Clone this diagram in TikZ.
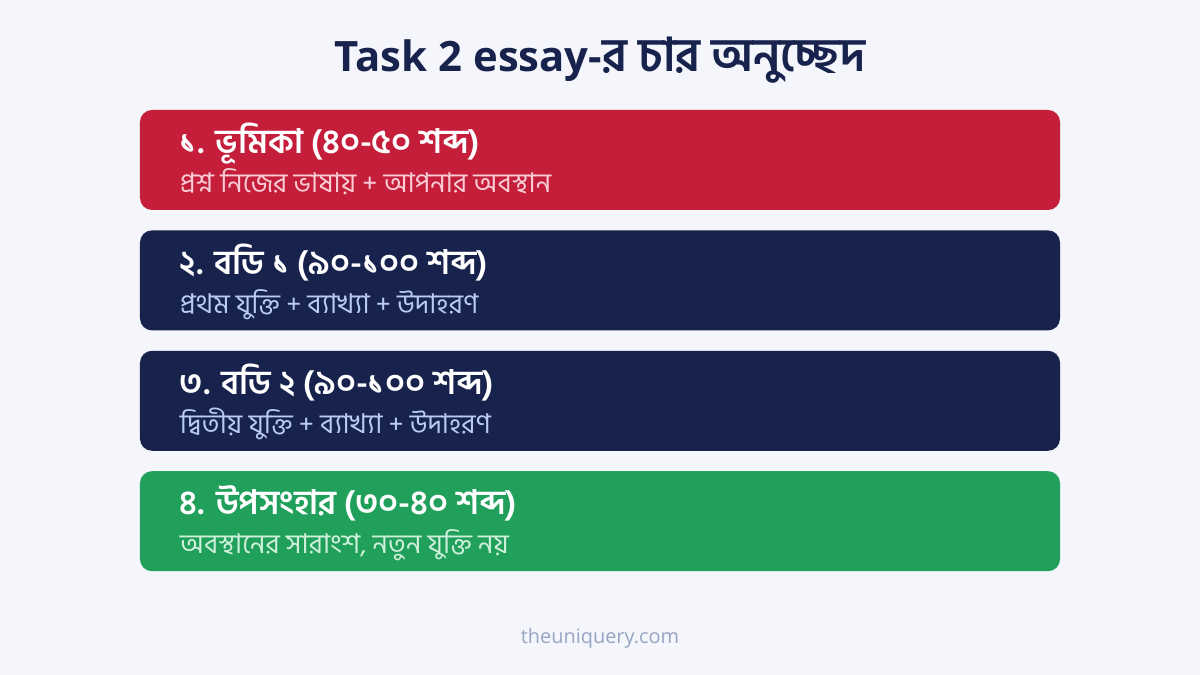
\documentclass[tikz,border=0pt]{standalone}
\usepackage{fontspec}
\setmainfont{Open Sans}
\newfontfamily\bn[Script=Bengali, Scale=1.3]{Hind Siliguri}
\usetikzlibrary{positioning}

\definecolor{bgc}{HTML}{F4F6FB}
\definecolor{navy}{HTML}{17224D}
\definecolor{redc}{HTML}{C41E3A}
\definecolor{greenc}{HTML}{20A05A}
\definecolor{pinkc}{HTML}{F8CDD6}
\definecolor{bluec}{HTML}{B9CCF2}
\definecolor{mintc}{HTML}{CFF0DB}
\definecolor{footc}{HTML}{98A4C4}

\begin{document}
\begin{tikzpicture}[x=1bp, y=1bp,
  card/.style={rectangle, rounded corners=12bp, minimum width=920bp, minimum height=100bp, inner sep=0pt},
  head/.style={anchor=base west, inner sep=0pt, text=white, font=\bn\fontsize{26}{30}\selectfont\bfseries},
  sub/.style={anchor=base west, inner sep=0pt, font=\bn\fontsize{21}{26}\selectfont}]
\fill[bgc] (0,0) rectangle (1200,675);
\useasboundingbox (0,0) rectangle (1200,675);

\node[anchor=base, text=navy, inner sep=0pt] (title) at (600,603)
  {\fontsize{42}{50}\selectfont\bfseries Task 2 essay-{\bn\fontsize{36}{42}\selectfont\bfseries র চার অনুচ্ছেদ}};

% the four paragraphs
\node[card, fill=redc] (c1) at (600,515) {};
\node[card, fill=navy, below=20bp of c1] (c2) {};
\node[card, fill=navy, below=20bp of c2] (c3) {};
\node[card, fill=greenc, below=20bp of c3] (c4) {};

\node[head] (h1) at ([xshift=40bp, yshift=-44bp]c1.north west) {১. ভূমিকা (৪০-৫০ শব্দ)};
\node[sub, text=pinkc] (s1) at ([yshift=-39bp]h1.base west) {প্রশ্ন নিজের ভাষায় + আপনার অবস্থান};

\node[head] (h2) at ([xshift=40bp, yshift=-44bp]c2.north west) {২. বডি ১ (৯০-১০০ শব্দ)};
\node[sub, text=bluec] (s2) at ([yshift=-39bp]h2.base west) {প্রথম যুক্তি + ব্যাখ্যা + উদাহরণ};

\node[head] (h3) at ([xshift=40bp, yshift=-44bp]c3.north west) {৩. বডি ২ (৯০-১০০ শব্দ)};
\node[sub, text=bluec] (s3) at ([yshift=-39bp]h3.base west) {দ্বিতীয় যুক্তি + ব্যাখ্যা + উদাহরণ};

\node[head] (h4) at ([xshift=40bp, yshift=-44bp]c4.north west) {৪. উপসংহার (৩০-৪০ শব্দ)};
\node[sub, text=mintc] (s4) at ([yshift=-39bp]h4.base west) {অবস্থানের সারাংশ, নতুন যুক্তি নয়};

\node[anchor=base, text=footc, inner sep=0pt, font=\fontsize{20}{24}\selectfont] (foot) at (600,31) {theuniquery.com};
\end{tikzpicture}
\end{document}
